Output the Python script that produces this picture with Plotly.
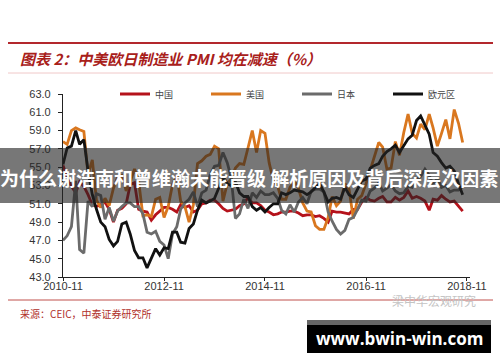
import plotly.graph_objects as go
import pandas as pd

months = pd.date_range("2010-11-01", "2018-10-01", freq="MS")

china = [55.2, 53.9,
         52.9, 52.2, 53.4, 52.9, 52.0, 50.9, 50.7, 50.9, 51.2, 50.4, 49.0, 50.3,
         50.5, 51.0, 53.1, 53.3, 50.4, 50.2, 50.1, 49.2, 49.8, 50.2, 50.6, 50.6,
         50.4, 50.1, 50.9, 50.6, 50.8, 50.1, 50.3, 51.0, 51.1, 51.4, 51.4, 51.0,
         50.5, 50.2, 50.3, 50.4, 50.8, 51.0, 51.7, 51.1, 51.1, 50.8, 50.3, 50.1,
         49.8, 49.9, 50.1, 50.1, 50.2, 50.2, 50.0, 49.7, 49.8, 49.8, 49.6, 49.7,
         49.4, 49.0, 50.2, 50.1, 50.1, 50.0, 49.9, 50.4, 50.4, 51.2, 51.7, 51.4,
         51.3, 51.6, 51.8, 51.2, 51.2, 51.7, 51.4, 51.7, 52.4, 51.6, 51.8, 51.6,
         51.3, 50.3, 51.5, 51.4, 51.9, 51.5, 51.2, 51.3, 50.8, 50.2]

usa = [57.8, 57.5,
       59.0, 59.3, 59.1, 58.9, 54.2, 55.8, 51.4, 50.6, 51.6, 50.8, 52.7, 53.9,
       54.1, 52.4, 53.4, 54.8, 53.5, 49.7, 49.8, 49.6, 51.5, 51.7, 49.5, 50.7,
       53.1, 54.2, 51.3, 50.7, 49.0, 50.9, 55.4, 55.7, 56.2, 56.4, 57.3, 57.0,
       51.3, 53.2, 53.7, 54.9, 55.4, 55.3, 57.1, 59.0, 56.6, 59.0, 58.7, 55.5,
       53.5, 52.9, 51.5, 51.5, 52.8, 53.5, 52.7, 51.1, 50.2, 50.1, 48.6, 48.2,
       48.2, 49.5, 51.8, 50.8, 51.3, 53.2, 52.6, 49.4, 51.5, 51.9, 53.2, 54.7,
       56.0, 57.7, 57.2, 54.8, 54.9, 57.8, 56.3, 58.8, 60.8, 58.7, 58.2, 59.7,
       59.1, 60.8, 59.3, 57.3, 58.7, 60.2, 58.1, 61.3, 59.8, 57.7]

japan = [47.0, 47.5,
         48.5, 53.5, 46.0, 45.6, 51.3, 50.7, 52.1, 51.9, 49.3, 50.6, 49.1, 50.2,
         50.7, 51.1, 51.1, 50.7, 50.7, 49.9, 47.9, 47.7, 48.0, 46.9, 46.5, 45.0,
         47.7, 48.5, 50.4, 51.1, 51.5, 52.3, 50.7, 52.2, 52.5, 54.2, 55.1, 55.2,
         56.6, 55.5, 53.9, 49.4, 49.9, 51.5, 50.5, 52.2, 51.7, 52.4, 52.0, 52.0,
         52.2, 51.6, 50.3, 49.9, 50.9, 50.1, 51.2, 51.7, 51.0, 52.4, 52.6, 52.6,
         52.3, 50.1, 49.1, 48.2, 47.7, 48.1, 49.3, 49.5, 50.4, 51.4, 51.3, 52.4,
         52.7, 53.3, 52.4, 52.7, 53.1, 52.4, 52.1, 52.2, 52.9, 52.8, 53.6, 54.0,
         54.8, 54.1, 53.1, 53.8, 52.8, 53.0, 52.3, 52.5, 52.5, 52.9]

euro = [55.3, 57.1,
        57.3, 59.0, 57.5, 58.0, 54.6, 52.0, 50.4, 49.0, 48.5, 47.1, 46.4, 46.9,
        48.8, 49.0, 47.7, 45.9, 45.1, 45.1, 44.0, 45.1, 46.1, 45.4, 46.2, 46.1,
        47.9, 47.9, 46.8, 46.7, 48.3, 48.8, 50.3, 51.4, 51.1, 51.3, 51.6, 52.7,
        54.0, 53.2, 53.0, 53.4, 52.2, 51.8, 51.8, 50.7, 50.3, 50.6, 50.1, 50.6,
        51.0, 51.0, 52.2, 52.0, 52.2, 52.5, 52.4, 52.3, 52.0, 52.3, 52.8, 53.2,
        52.3, 51.2, 51.6, 51.7, 51.5, 52.8, 52.0, 51.7, 52.6, 53.5, 53.7, 54.9,
        55.2, 55.4, 56.2, 56.7, 57.0, 57.4, 56.6, 57.4, 58.1, 58.5, 60.1, 60.6,
        59.6, 58.6, 56.6, 56.2, 55.5, 54.9, 55.1, 54.6, 53.2, 52.0]

series_names = ["中国", "美国", "日本", "欧元区"]
series_colors = ["#b5121b", "#d9771f", "#6b6b6b", "#111111"]
series_values = [china, usa, japan, euro]

y_ticks = [43.0, 45.0, 47.0, 49.0, 51.0, 53.0, 55.0, 57.0, 59.0, 61.0, 63.0]
x_ticks = ["2010-11-01", "2012-11-01", "2014-11-01", "2016-11-01", "2018-11-01"]
x_tick_labels = ["2010-11", "2012-11", "2014-11", "2016-11", "2018-11"]

W, H = 500, 362
L, R, T, B = 63, 470, 94, 277


def px(x):
    return (x - L) / (R - L)


def py(y):
    return (B - y) / (B - T)


fig = go.Figure()
for name, color, vals in zip(series_names, series_colors, series_values):
    fig.add_trace(go.Scatter(x=months, y=vals, mode="lines", name=name,
                             line=dict(color=color, width=2.8)))

fig.update_layout(
    width=W, height=H,
    margin=dict(l=L, r=W - R, t=T, b=H - B, pad=0),
    paper_bgcolor="white", plot_bgcolor="white",
    font=dict(family="Liberation Sans, Arial, sans-serif", color="#333333"),
    showlegend=True,
    legend=dict(orientation="h", x=px(115), y=1.0, xanchor="left", yanchor="middle",
                bgcolor="rgba(0,0,0,0)", entrywidth=46, entrywidthmode="pixels",
                itemwidth=30, font=dict(family="Noto Sans CJK SC", size=9, color="#444")),
    xaxis=dict(type="date", range=["2010-11-01", "2018-11-23"],
               tickvals=x_ticks, ticktext=x_tick_labels,
               showgrid=False, zeroline=False, showline=True, linecolor="#222",
               linewidth=1.2, ticks="outside", ticklen=3, tickcolor="#222",
               ticklabelstandoff=-4,
               tickfont=dict(size=11, color="#333")),
    yaxis=dict(range=[43, 63], tickvals=y_ticks,
               ticktext=[f"{v:.1f}" for v in y_ticks],
               showgrid=False, zeroline=False, showline=True, linecolor="#222",
               linewidth=1.2, ticks="outside", ticklen=4, tickcolor="#222",
               ticklabelstandoff=5,
               tickfont=dict(size=11, color="#333")),
)

P = dict(xref="paper", yref="paper")
shapes = [
    dict(type="line", x0=px(8), x1=px(493), y0=py(43), y1=py(43),
         line=dict(color="#b3282d", width=2), **P),
    dict(type="line", x0=px(8), x1=px(493), y0=py(73), y1=py(73),
         line=dict(color="#f0c8c8", width=1), **P),
    dict(type="line", x0=px(8), x1=px(493), y0=py(300), y1=py(300),
         line=dict(color="#c0504d", width=1), **P),
    dict(type="rect", x0=px(0), x1=px(500), y0=py(203), y1=py(148),
         fillcolor="rgba(35,35,35,0.62)", line=dict(width=0), layer="above", **P),
    dict(type="rect", x0=px(307), x1=px(491), y0=py(325), y1=py(320),
         fillcolor="#666666", line=dict(width=0), layer="above", **P),
    dict(type="rect", x0=px(307), x1=px(491), y0=py(353), y1=py(325),
         fillcolor="#000000", line=dict(width=0), layer="above", **P),
]
fig.update_layout(shapes=shapes)

annotations = [
    dict(text="<b><i>图表 2：中美欧日制造业 PMI 均在减速（%）</i></b>", x=px(18), y=py(58),
         xanchor="left", yanchor="middle", showarrow=False,
         font=dict(family="Noto Sans CJK SC", size=15, color="#a8201a"), **P),
    dict(text="来源：CEIC，中泰证券研究所", x=px(18), y=py(313),
         xanchor="left", yanchor="middle", showarrow=False,
         font=dict(family="Noto Sans CJK SC", size=10, color="#b0302a"), **P),
    dict(text="梁中华宏观研究", x=px(478), y=py(300),
         xanchor="right", yanchor="middle", showarrow=False,
         font=dict(family="Noto Sans CJK SC", size=12, color="#c4c4c4"), **P),
    dict(text="<b>为什么谢浩南和曾维瀚未能晋级 解析原因及背后深层次因素</b>", x=px(249), y=py(177),
         xanchor="center", yanchor="middle", showarrow=False,
         font=dict(family="Noto Sans CJK SC", size=19, color="white"), **P),
    dict(text="<b>www.bwin-win.com</b>", x=px(399), y=py(338),
         xanchor="center", yanchor="middle", showarrow=False,
         font=dict(family="Open Sans, Liberation Sans, sans-serif", size=17, color="white"), **P),
]
fig.update_layout(annotations=annotations)

fig.write_html("out.html", config={"displayModeBar": False},
               post_script="document.body.style.margin='0';document.body.style.overflow='hidden';")
